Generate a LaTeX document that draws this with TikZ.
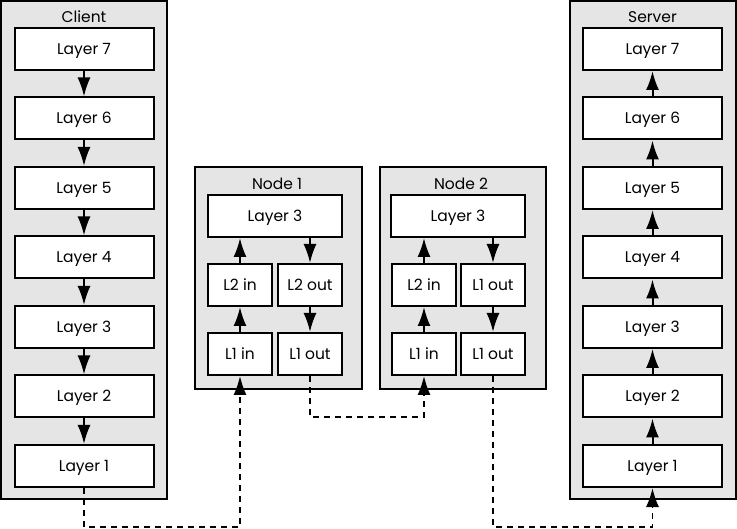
\documentclass[tikz,border=0pt]{standalone}
\usepackage{fontspec}
\setmainfont{Poppins}
\usepackage{tikz}
\usetikzlibrary{arrows.meta}
\usetikzlibrary{positioning}

\begin{document}
\begin{tikzpicture}[x=1pt,y=-1pt,node distance=69.5pt,
				>={Latex[length=19pt,width=13pt]},
				font=\fontsize{15.5}{18}\selectfont,
				layer box/.style={draw,fill=white,line width=2pt,
					minimum width=139pt,minimum height=42pt,inner sep=0pt,
					text height=13pt,text depth=2pt},
				wide box/.style={layer box,minimum width=134pt},
				half box/.style={layer box,minimum width=64pt},
				host box/.style={draw,fill=black!10,line width=2pt},
				link/.style={line width=1.8pt,dash pattern=on 6pt off 5pt}]
				
				\useasboundingbox (0,0) rectangle (737,529);
				
				% grey hosts
				\draw[host box] (1,1) rectangle (167,499);
				\draw[host box] (570,1) rectangle (736,499);
				\draw[host box] (195,167) rectangle (362,389);
				\draw[host box] (380,167) rectangle (546,389);
				
				\node (client) at (84,17) {Client};
				\node (server) at (652.5,17) {Server};
				\node (node1) at (277,184) {Node 1};
				\node (node2) at (461,184) {Node 2};
				
				% client stack
				\node[layer box] (c7) at (84,49) {Layer 7};
				\node[layer box] (c6) [below of=c7] {Layer 6};
				\node[layer box] (c5) [below of=c6] {Layer 5};
				\node[layer box] (c4) [below of=c5] {Layer 4};
				\node[layer box] (c3) [below of=c4] {Layer 3};
				\node[layer box] (c2) [below of=c3] {Layer 2};
				\node[layer box] (c1) [below of=c2] {Layer 1};
				
				% server stack
				\node[layer box] (s7) at (652.5,49) {Layer 7};
				\node[layer box] (s6) [below of=s7] {Layer 6};
				\node[layer box] (s5) [below of=s6] {Layer 5};
				\node[layer box] (s4) [below of=s5] {Layer 4};
				\node[layer box] (s3) [below of=s4] {Layer 3};
				\node[layer box] (s2) [below of=s3] {Layer 2};
				\node[layer box] (s1) [below of=s2] {Layer 1};
				
				% node 1
				\node[wide box] (a3) at (275,216) {Layer 3};
				\node[half box] (a2in) at (240,285) {L2 in};
				\node[half box] (a2out) at (310,285) {L2 out};
				\node[half box] (a1in) at (240,354) {L1 in};
				\node[half box] (a1out) at (310,354) {L1 out};
				
				% node 2
				\node[wide box] (b3) at (458,216) {Layer 3};
				\node[half box] (b2in) at (424,285) {L2 in};
				\node[half box] (b2out) at (493,285) {L1 out};
				\node[half box] (b1in) at (424,354) {L1 in};
				\node[half box] (b1out) at (493,354) {L1 out};
				
				\coordinate (low) at (0,527);
				\coordinate (mid) at (0,417);
				
				\path[->,line width=2pt]
				(c7) edge (c6)
				(c6) edge (c5)
				(c5) edge (c4)
				(c4) edge (c3)
				(c3) edge (c2)
				(c2) edge (c1)
				(s1) edge (s2)
				(s2) edge (s3)
				(s3) edge (s4)
				(s4) edge (s5)
				(s5) edge (s6)
				(s6) edge (s7)
				(a1in) edge (a2in)
				(a2in) edge (a2in |- a3.south)
				(a3.south -| a2out) edge (a2out)
				(a2out) edge (a1out)
				(b1in) edge (b2in)
				(b2in) edge (b2in |- b3.south)
				(b3.south -| b2out) edge (b2out)
				(b2out) edge (b1out);
				
				% wires
				\draw[link,->] (c1.south) -- (c1.south |- low) -| (a1in.south);
				\draw[link,->] (a1out.south) -- (a1out.south |- mid) -| (b1in.south);
				\draw[link,->] (b1out.south) -- (b1out.south |- low) -| (s1.south);
			\end{tikzpicture}
\end{document}
